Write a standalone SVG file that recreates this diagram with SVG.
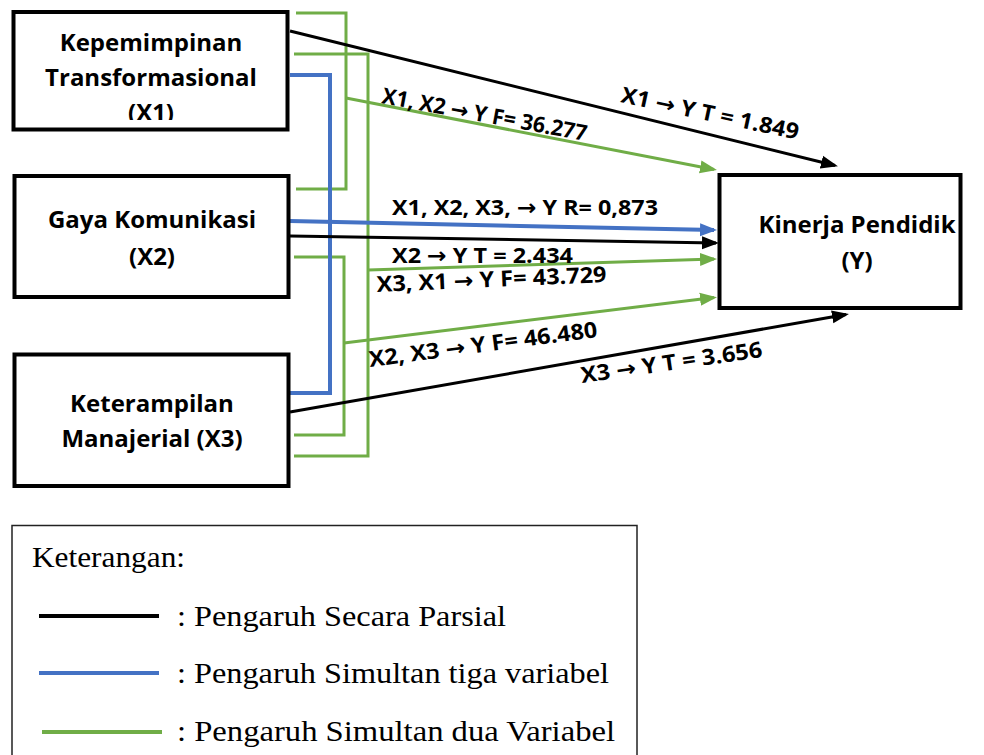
<svg xmlns="http://www.w3.org/2000/svg" width="984" height="755" viewBox="0 0 984 755">
<style>
.box{fill:#fff;stroke:#000;stroke-width:4}
.nt{font-family:"Open Sans","Liberation Sans",sans-serif;font-weight:700;font-size:24px;fill:#000;text-anchor:middle}
.lb{font-family:"Open Sans","DejaVu Sans",sans-serif;font-weight:700;font-size:22px;fill:#000}
.ar{font-family:"DejaVu Sans",sans-serif;font-weight:700}
.k{fill:none;stroke:#000;stroke-width:3}
.b{fill:none;stroke:#4472C4;stroke-width:4}
.g{fill:none;stroke:#70AD47;stroke-width:3}
.lg{font-family:"Liberation Serif","Times New Roman",serif;font-size:30px;fill:#000}
</style>
<defs>
<marker id="ak" markerUnits="userSpaceOnUse" markerWidth="17" markerHeight="14" refX="14" refY="6.5" orient="auto" viewBox="0 0 17 13"><path d="M0,0 L17,6.5 L0,13 z" fill="#000"/></marker>
<marker id="ab" markerUnits="userSpaceOnUse" markerWidth="17" markerHeight="14" refX="14" refY="6.5" orient="auto" viewBox="0 0 17 13"><path d="M0,0 L17,6.5 L0,13 z" fill="#4472C4"/></marker>
<marker id="ag" markerUnits="userSpaceOnUse" markerWidth="17" markerHeight="14" refX="14" refY="6.5" orient="auto" viewBox="0 0 17 13"><path d="M0,0 L17,6.5 L0,13 z" fill="#70AD47"/></marker>
<clipPath id="c1"><rect x="14" y="13" width="272" height="107"/></clipPath>
</defs>

<g id="connectors">
<polyline class="g" points="296,13 346,13 346,189 296,189"/>
<polyline class="g" points="294,54 368,54 368,456 294,456"/>
<polyline class="g" points="294,257 344,257 344,435 294,435"/>
<polyline class="b" points="290,75 330,75 330,393 290,393"/>
<line class="k" x1="290" y1="31" x2="835" y2="165.5" marker-end="url(#ak)"/>
<line class="k" x1="290" y1="236" x2="716" y2="243" marker-end="url(#ak)"/>
<line class="k" x1="290" y1="412" x2="846" y2="314.5" marker-end="url(#ak)"/>
<line class="b" x1="290" y1="221" x2="714" y2="230" marker-end="url(#ab)"/>
<line class="g" x1="346" y1="98" x2="714" y2="169.5" marker-end="url(#ag)"/>
<line class="g" x1="368" y1="270" x2="714" y2="259" marker-end="url(#ag)"/>
<line class="g" x1="344" y1="343" x2="714" y2="297.5" marker-end="url(#ag)"/>
</g>

<g id="labels">
<text class="lb" x="620" y="102" transform="rotate(12 620 102)" textLength="181" lengthAdjust="spacingAndGlyphs">X1 <tspan class="ar">→</tspan> Y T = 1.849</text>
<text class="lb" x="381" y="103" transform="rotate(10.5 381 103)" textLength="208" lengthAdjust="spacingAndGlyphs">X1, X2 <tspan class="ar">→</tspan> Y F= 36.277</text>
<text class="lb" x="392" y="215" textLength="266" lengthAdjust="spacingAndGlyphs">X1, X2, X3, <tspan class="ar">→</tspan> Y R= 0,873</text>
<text class="lb" x="392" y="263" textLength="181" lengthAdjust="spacingAndGlyphs">X2 <tspan class="ar">→</tspan> Y T = 2.434</text>
<text class="lb" x="377" y="292" transform="rotate(-2.5 377 292)" textLength="230" lengthAdjust="spacingAndGlyphs">X3, X1 <tspan class="ar">→</tspan> Y F= 43.729</text>
<text class="lb" x="370" y="367" transform="rotate(-7.5 370 367)" textLength="230" lengthAdjust="spacingAndGlyphs">X2, X3 <tspan class="ar">→</tspan> Y F= 46.480</text>
<text class="lb" x="582" y="383" transform="rotate(-8.2 582 383)" textLength="183" lengthAdjust="spacingAndGlyphs">X3 <tspan class="ar">→</tspan> Y T = 3.656</text>
</g>

<g id="node-x1">
<rect class="box" x="13.5" y="12" width="274" height="117.5"/>
<g clip-path="url(#c1)">
<text class="nt" x="151" y="51">Kepemimpinan</text>
<text class="nt" x="151" y="86">Transformasional</text>
<text class="nt" x="151" y="121">(X1)</text>
</g>
</g>

<g id="node-x2">
<rect class="box" x="14.5" y="176" width="274" height="121"/>
<text class="nt" x="152" y="228">Gaya Komunikasi</text>
<text class="nt" x="152" y="265">(X2)</text>
</g>

<g id="node-x3">
<rect class="box" x="14.5" y="354.5" width="274" height="131.5"/>
<text class="nt" x="152" y="412">Keterampilan</text>
<text class="nt" x="152" y="447">Manajerial (X3)</text>
</g>

<g id="node-y">
<rect class="box" x="719.5" y="175" width="241" height="133"/>
<text class="nt" x="857" y="233">Kinerja Pendidik</text>
<text class="nt" x="857" y="269">(Y)</text>
</g>

<g id="legend">
<rect x="12" y="525.5" width="625" height="240" fill="#fff" stroke="#222" stroke-width="1.5"/>
<text class="lg" x="32" y="567" textLength="153" lengthAdjust="spacingAndGlyphs">Keterangan:</text>
<line x1="39" y1="616" x2="159" y2="616" stroke="#000" stroke-width="4"/>
<text class="lg" x="177" y="626" textLength="329" lengthAdjust="spacingAndGlyphs">: Pengaruh Secara Parsial</text>
<line x1="39" y1="673" x2="159" y2="673" stroke="#4472C4" stroke-width="4"/>
<text class="lg" x="177" y="683" textLength="432" lengthAdjust="spacingAndGlyphs">: Pengaruh Simultan tiga variabel</text>
<line x1="42" y1="732" x2="162" y2="732" stroke="#70AD47" stroke-width="4"/>
<text class="lg" x="177" y="741" textLength="438" lengthAdjust="spacingAndGlyphs">: Pengaruh Simultan dua Variabel</text>
</g>
</svg>
